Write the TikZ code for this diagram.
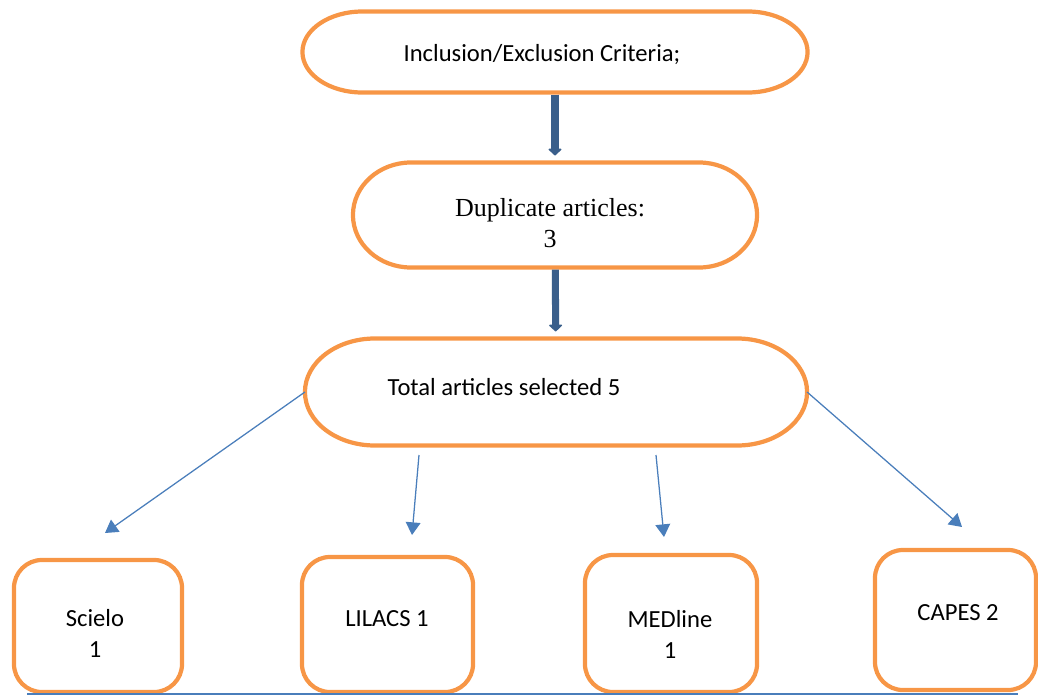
\documentclass[tikz,border=0pt]{standalone}
\usepackage{fontspec}
\setmainfont{Carlito}
\newfontfamily\timesfont{Liberation Serif}
\usetikzlibrary{arrows.meta}
\definecolor{boxorange}{HTML}{F79646}
\definecolor{darkblue}{HTML}{3A5F8B}
\definecolor{lineblue}{HTML}{4A7EBB}

\begin{document}
\begin{tikzpicture}[x=0.025cm,y=-0.025cm,
	oval/.style={inner sep=0pt,outer sep=0pt},
	ovalline/.style={draw=boxorange,line width=3pt},
	dbbox/.style={draw=boxorange,line width=3pt,rounded corners=0.7cm,inner sep=0pt},
	bigarrow/.style={draw=darkblue,line width=5pt,-{Triangle[width=10.5pt,length=5pt,round,line width=1pt]},shorten <=1.5pt,shorten >=5pt},
	thinarrow/.style={draw=lineblue,line width=0.9pt,-{Triangle[width=10.5pt,length=9pt]}},
	txt/.style={font=\fontsize{17.5}{22}\selectfont,align=center}]
	\useasboundingbox (0,0) rectangle (1038,697);

	%top ovals
	\node[oval,minimum width=12.625cm,minimum height=2.025cm] (incl) at (555,52) {};
	\draw[ovalline] ([xshift=1.5cm]incl.north west) -- ([xshift=-1.5cm]incl.north east)
		arc[start angle=90,end angle=-90,x radius=1.5cm,y radius=1.0125cm]
		-- ([xshift=1.5cm]incl.south west)
		arc[start angle=270,end angle=90,x radius=1.5cm,y radius=1.0125cm] -- cycle;
	\node[txt] at (542,55) {Inclusion/Exclusion Criteria;};
	%
	\node[oval,minimum width=10.1cm,minimum height=2.625cm] (dup) at (555,215) {};
	\draw[ovalline] ([xshift=1.45cm]dup.north west) -- ([xshift=-1.45cm]dup.north east)
		arc[start angle=90,end angle=-90,x radius=1.45cm,y radius=1.3125cm]
		-- ([xshift=1.45cm]dup.south west)
		arc[start angle=270,end angle=90,x radius=1.45cm,y radius=1.3125cm] -- cycle;
	\node[txt,font=\timesfont\fontsize{18.5}{22}\selectfont] at (550,223) {Duplicate articles:\\3};
	%
	\node[oval,minimum width=12.55cm,minimum height=2.675cm] (total) at (556,392) {};
	\draw[ovalline] ([xshift=1.75cm]total.north west) -- ([xshift=-1.75cm]total.north east)
		arc[start angle=90,end angle=-90,x radius=1.75cm,y radius=1.3375cm]
		-- ([xshift=1.75cm]total.south west)
		arc[start angle=270,end angle=90,x radius=1.75cm,y radius=1.3375cm] -- cycle;
	\node[txt] at (504,387) {Total articles selected 5};

	%thick arrows
	\draw[bigarrow] (incl) -- (dup);
	\draw[bigarrow] (dup) -- (total);

	%databases
	\node[dbbox,minimum width=4.2cm,minimum height=3.3cm] (scielo) at (98,626) {};
	\node[txt] at (95,633) {Scielo\\1};
	%
	\node[dbbox,minimum width=4.275cm,minimum height=3.375cm] (lilacs) at (387.5,624.5) {};
	\node[txt] at (387,619) {LILACS 1};
	%
	\node[dbbox,minimum width=4.3cm,minimum height=3.425cm] (medline) at (671,623.5) {};
	\node[txt] at (670,634) {MEDline\\1};
	%
	\node[dbbox,minimum width=4.025cm,minimum height=3.5cm] (capes) at (955.5,620) {};
	\node[txt] at (958,613) {CAPES 2};

	%thin arrows
	\coordinate (scieloTip) at (105,533);
	\coordinate (lilacsFrom) at (419,455);
	\coordinate (lilacsTip) at (412,535);
	\coordinate (medlineFrom) at (656,455);
	\coordinate (medlineTip) at (664,537);
	\coordinate (capesTip) at (962,527);
	\draw[thinarrow] (total.west) -- (scieloTip);
	\draw[thinarrow] (lilacsFrom) -- (lilacsTip);
	\draw[thinarrow] (medlineFrom) -- (medlineTip);
	\draw[thinarrow] (total.east) -- (capesTip);

	%base line
	\coordinate (baseL) at (27,694);
	\coordinate (baseR) at (1018,694);
	\draw[lineblue,line width=0.9pt] (baseL) -- (baseR);
\end{tikzpicture}
\end{document}
